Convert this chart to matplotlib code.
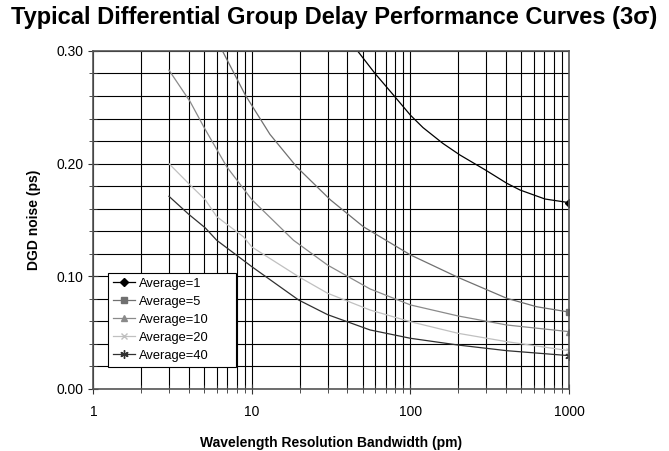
import numpy as np
import matplotlib.pyplot as plt
from matplotlib.ticker import MultipleLocator, FixedLocator, NullFormatter

plt.rcParams['font.family'] = ['Liberation Sans', 'DejaVu Sans']

# values (bandwidth in pm, DGD noise in ps)
bw_avg1 = [40, 44.7, 59.8, 78, 100, 120, 160, 205, 300, 405, 491, 706, 1000]
dgd_avg1 = [0.315, 0.303, 0.280, 0.261, 0.243, 0.232, 0.218, 0.2077, 0.194, 0.1826, 0.1766, 0.1686, 0.1654]

bw_avg5 = [6, 6.36, 9.08, 13, 19.2, 31.2, 50.5, 100, 200, 405, 625, 1000]
dgd_avg5 = [0.312, 0.303, 0.261, 0.226, 0.197, 0.168, 0.144, 0.119, 0.099, 0.0805, 0.073, 0.0683]

bw_avg10 = [3, 4.08, 5, 6.96, 10, 18.3, 30, 55.6, 100, 200, 405, 1000]
dgd_avg10 = [0.283, 0.255, 0.232, 0.197, 0.168, 0.132, 0.110, 0.0888, 0.0746, 0.0648, 0.0568, 0.0509]

bw_avg20 = [3, 4.08, 5.08, 6, 8.86, 10, 19.7, 30, 55.6, 100, 200, 405, 1000]
dgd_avg20 = [0.200, 0.181, 0.168, 0.153, 0.135, 0.126, 0.0997, 0.085, 0.0701, 0.0597, 0.0494, 0.042, 0.034]

bw_avg40 = [3, 4, 5.08, 6, 10, 19.7, 30, 55.6, 100, 200, 405, 1000]
dgd_avg40 = [0.171, 0.155, 0.143, 0.132, 0.1085, 0.079, 0.066, 0.0524, 0.045, 0.039, 0.034, 0.0296]

fig = plt.figure(figsize=(6.69, 4.51), dpi=100)
ax = fig.add_axes([0.1395, 0.1375, 0.711, 0.7495])

ax.plot(bw_avg1, dgd_avg1, color='black', lw=0.9, marker='D', ms=4,
        markevery=[-1], label='Average=1')
ax.plot(bw_avg5, dgd_avg5, color='#707070', lw=0.9, marker='s', ms=5,
        markevery=[-1], label='Average=5')
ax.plot(bw_avg10, dgd_avg10, color='#8a8a8a', lw=0.9, marker='^', ms=5,
        markevery=[-1], label='Average=10')
ax.plot(bw_avg20, dgd_avg20, color='#c0c0c0', lw=0.9, marker='x', ms=5,
        markevery=[-1], label='Average=20')
ax.plot(bw_avg40, dgd_avg40, color='#303030', lw=0.9, marker=(6, 2, 0), ms=6,
        markevery=[-1], label='Average=40')

ax.set_xscale('log')
ax.set_xlim(1, 1000)
ax.set_ylim(0, 0.30)
ax.xaxis.set_major_locator(FixedLocator([1, 10, 100, 1000]))
ax.set_xticklabels(['1', '10', '100', '1000'])
ax.xaxis.set_minor_locator(FixedLocator([m * d for d in (1, 10, 100) for m in range(2, 10)]))
ax.xaxis.set_minor_formatter(NullFormatter())
ax.yaxis.set_major_locator(MultipleLocator(0.10))
ax.yaxis.set_minor_locator(MultipleLocator(0.02))
ax.yaxis.set_major_formatter(plt.FormatStrFormatter('%.2f'))

ax.grid(True, which='both', color='black', lw=0.8)
ax.set_axisbelow(True)
ax.tick_params(which='both', direction='inout', color='#333333', labelsize=10)
ax.tick_params(which='major', length=7)
ax.tick_params(axis='x', which='major', pad=8)
ax.tick_params(which='minor', length=6)
for s in ax.spines.values():
    s.set_color('#555555')
    s.set_linewidth(1.2)

ax.set_xlabel('Wavelength Resolution Bandwidth (pm)', fontsize=10, fontweight='bold', labelpad=12)
ax.set_ylabel('DGD noise (ps)', fontsize=10, fontweight='bold', labelpad=11)

leg = ax.legend(loc='lower left', bbox_to_anchor=(0.031, 0.065, 0.269, 0.28), mode='expand',
                borderaxespad=0, fontsize=9.3, fancybox=False, framealpha=1,
                edgecolor='black', handlelength=1.7, labelspacing=0.46,
                borderpad=0.4, handletextpad=0.3)
leg.get_frame().set_linewidth(0.8)

fig.text(0.5, 0.962, 'Typical Differential Group Delay Performance Curves (3\u03c3)',
         ha='center', va='center', fontsize=17, fontweight='bold')

plt.savefig('out.png', dpi=100, facecolor='w')
